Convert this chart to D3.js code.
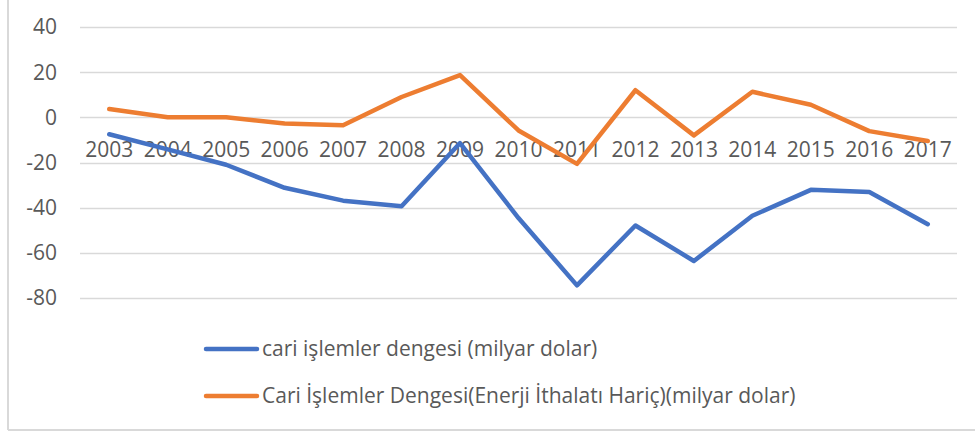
<!DOCTYPE html>
<html>
<script src="https://d3js.org/d3.v7.min.js"></script>

<head>
    <style>
        body {
            margin: 0;
            background-color: white;
            font-family: "Open Sans", "Liberation Sans", sans-serif;
        }

        svg {
            display: block;
        }
    </style>
</head>

<body>
</body>
<script>
    const width = 975,
        height = 432;

    const years = ["2003", "2004", "2005", "2006", "2007", "2008", "2009", "2010",
        "2011", "2012", "2013", "2014", "2015", "2016", "2017"];
    const cariDenge = [-7.5, -14.2, -21.0, -31.2, -36.9, -39.4, -11.4, -44.6,
        -74.4, -47.9, -63.6, -43.6, -32.1, -33.1, -47.3];
    const enerjiHaric = [3.7, 0.0, 0.0, -2.7, -3.5, 9.0, 18.7, -5.8,
        -20.6, 12.0, -8.0, 11.3, 5.6, -6.1, -10.5];
    const yTicks = [40, 20, 0, -20, -40, -60, -80];
    const seriesNames = ["cari işlemler dengesi (milyar dolar)",
        "Cari İşlemler Dengesi(Enerji İthalatı Hariç)(milyar dolar)"];
    const colors = ["#4472C4", "#ED7D31"];

    const svg = d3.select("body").append("svg").attr("width", width).attr("height", height);

    // chart frame (only left and bottom edges are visible)
    svg.append("line")
        .attr("x1", 8).attr("x2", 8).attr("y1", 0).attr("y2", 430)
        .attr("stroke", "#d9d9d9").attr("stroke-width", 2);
    svg.append("line")
        .attr("x1", 8).attr("x2", width).attr("y1", 430).attr("y2", 430)
        .attr("stroke", "#d9d9d9").attr("stroke-width", 2);

    const x = d3.scaleBand().domain(years).range([80, 957]);
    const y = d3.scaleLinear().domain([-80, 40]).range([298, 27]);

    // gridlines
    svg.append("g")
        .selectAll("line")
        .data(yTicks)
        .join("line")
        .attr("x1", 80)
        .attr("x2", 957)
        .attr("y1", d => Math.round(y(d)) + 0.5)
        .attr("y2", d => Math.round(y(d)) + 0.5)
        .attr("stroke", "#d9d9d9")
        .attr("stroke-width", 1.5);

    // y axis labels
    svg.append("g")
        .selectAll("text")
        .data(yTicks)
        .join("text")
        .attr("x", 57)
        .attr("y", d => y(d))
        .attr("dy", "0.35em")
        .attr("text-anchor", "end")
        .attr("fill", "#595959")
        .attr("font-size", 21)
        .text(d => d);

    // x axis labels sit just under the zero line
    svg.append("g")
        .selectAll("text")
        .data(years)
        .join("text")
        .attr("x", d => x(d) + x.bandwidth() / 2)
        .attr("y", y(0) + 40)
        .attr("text-anchor", "middle")
        .attr("fill", "#595959")
        .attr("font-size", 21)
        .text(d => d);

    const line = d3.line()
        .x((d, i) => x(years[i]) + x.bandwidth() / 2)
        .y(d => y(d));

    [cariDenge, enerjiHaric].forEach((series, i) => {
        svg.append("path")
            .datum(series)
            .attr("fill", "none")
            .attr("stroke", colors[i])
            .attr("stroke-width", 4.5)
            .attr("stroke-linejoin", "round")
            .attr("stroke-linecap", "round")
            .attr("d", line);
    });

    // legend
    const legend = svg.append("g");
    seriesNames.forEach((name, i) => {
        const ly = 349 + i * 47;
        legend.append("line")
            .attr("x1", 206).attr("x2", 257)
            .attr("y1", ly).attr("y2", ly)
            .attr("stroke", colors[i])
            .attr("stroke-width", 4.5)
            .attr("stroke-linecap", "round");
        legend.append("text")
            .attr("x", 262)
            .attr("y", ly)
            .attr("dy", "0.35em")
            .attr("fill", "#595959")
            .attr("font-size", 21)
            .text(name);
    });
</script>

</html>
